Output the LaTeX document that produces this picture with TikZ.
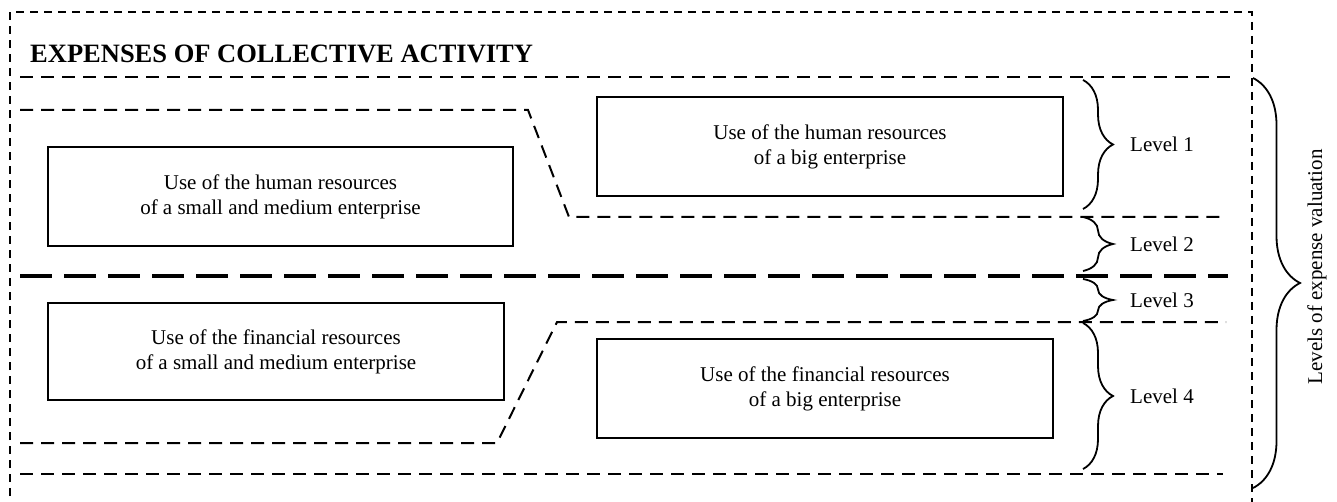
\documentclass[tikz,border=0pt]{standalone}
\usepackage{fontspec}
\setmainfont{Liberation Serif}
\usetikzlibrary{decorations.pathreplacing}
\begin{document}
\begin{tikzpicture}[x=1pt,y=-1pt,
  box/.style={draw,line width=2pt,align=center,inner sep=0pt,font=\fontsize{21}{25}\selectfont},
  framedash/.style={line width=1.4pt,dash pattern=on 8pt off 6pt},
  middash/.style={line width=2pt,dash pattern=on 13pt off 8pt},
  thickdash/.style={line width=4pt,dash pattern=on 32pt off 12pt},
  lvlbrace/.style={line width=1.8pt,decorate,decoration={brace,amplitude=30pt}},
  bigbrace/.style={line width=1.8pt,decorate,decoration={brace,amplitude=47pt}},
  lvl/.style={anchor=west,inner sep=0pt,font=\fontsize{21}{25}\selectfont}]
\useasboundingbox (0,0) rectangle (1337,502);
\clip (0,0) rectangle (1337,502);
% outer frame (open at bottom)
\coordinate (fbl) at (10,510);
\coordinate (ftl) at (10,12);
\coordinate (ftr) at (1252,12);
\coordinate (fbr) at (1252,510);
\draw[framedash] (fbl) -- (ftl) -- (ftr) -- (fbr);
% title
\node[anchor=base west,inner sep=0pt,font=\fontsize{26.5}{30}\selectfont\bfseries] (title) at (30,63) {EXPENSES OF COLLECTIVE ACTIVITY};
% horizontal separators
\coordinate (t1) at (20,77); \coordinate (t2) at (1232,77);
\draw[middash] (t1) -- (t2);
\coordinate (p1) at (20,110); \coordinate (p2) at (528,110); \coordinate (p3) at (569,217); \coordinate (p4) at (1222,217);
\draw[middash] (p1) -- (p2) -- (p3) -- (p4);
\coordinate (m1) at (20,276); \coordinate (m2) at (1228,276);
\draw[thickdash] (m1) -- (m2);
\coordinate (q1) at (20,443); \coordinate (q2) at (497,443); \coordinate (q3) at (557,322); \coordinate (q4) at (1226,322);
\draw[middash] (q1) -- (q2) -- (q3) -- (q4);
\coordinate (b1) at (20,474); \coordinate (b2) at (1223,474);
\draw[middash] (b1) -- (b2);
% boxes
\node[box,minimum width=465pt,minimum height=99pt] (hs) at (280.5,196.5) {Use of the human resources\\of a small and medium enterprise};
\node[box,minimum width=466pt,minimum height=99pt] (hb) at (830,146.5) {Use of the human resources\\of a big enterprise};
\node[box,minimum width=456pt,minimum height=97pt] (fs) at (276,351.5) {Use of the financial resources\\of a small and medium enterprise};
\node[box,minimum width=456pt,minimum height=99pt] (fb) at (825,388.5) {Use of the financial resources\\of a big enterprise};
% level braces
\coordinate (l1a) at (1083,80); \coordinate (l1b) at (1083,209);
\coordinate (l2a) at (1083,217); \coordinate (l2b) at (1083,271);
\coordinate (l3a) at (1083,279); \coordinate (l3b) at (1083,321);
\coordinate (l4a) at (1083,323); \coordinate (l4b) at (1083,469);
\draw[lvlbrace] (l1a) -- (l1b);
\draw[lvlbrace] (l2a) -- (l2b);
\draw[lvlbrace] (l3a) -- (l3b);
\draw[lvlbrace] (l4a) -- (l4b);
\node[lvl] (L1) at (1130,144.5) {Level 1};
\node[lvl] (L2) at (1130,244) {Level 2};
\node[lvl] (L3) at (1130,300) {Level 3};
\node[lvl] (L4) at (1130,396) {Level 4};
% big brace
\coordinate (ba) at (1253,78); \coordinate (bb) at (1253,488);
\draw[bigbrace] (ba) -- (bb);
\node[rotate=90,inner sep=0pt,font=\fontsize{21}{25}\selectfont] (lev) at (1317,267) {Levels of expense valuation};
\end{tikzpicture}
\end{document}
